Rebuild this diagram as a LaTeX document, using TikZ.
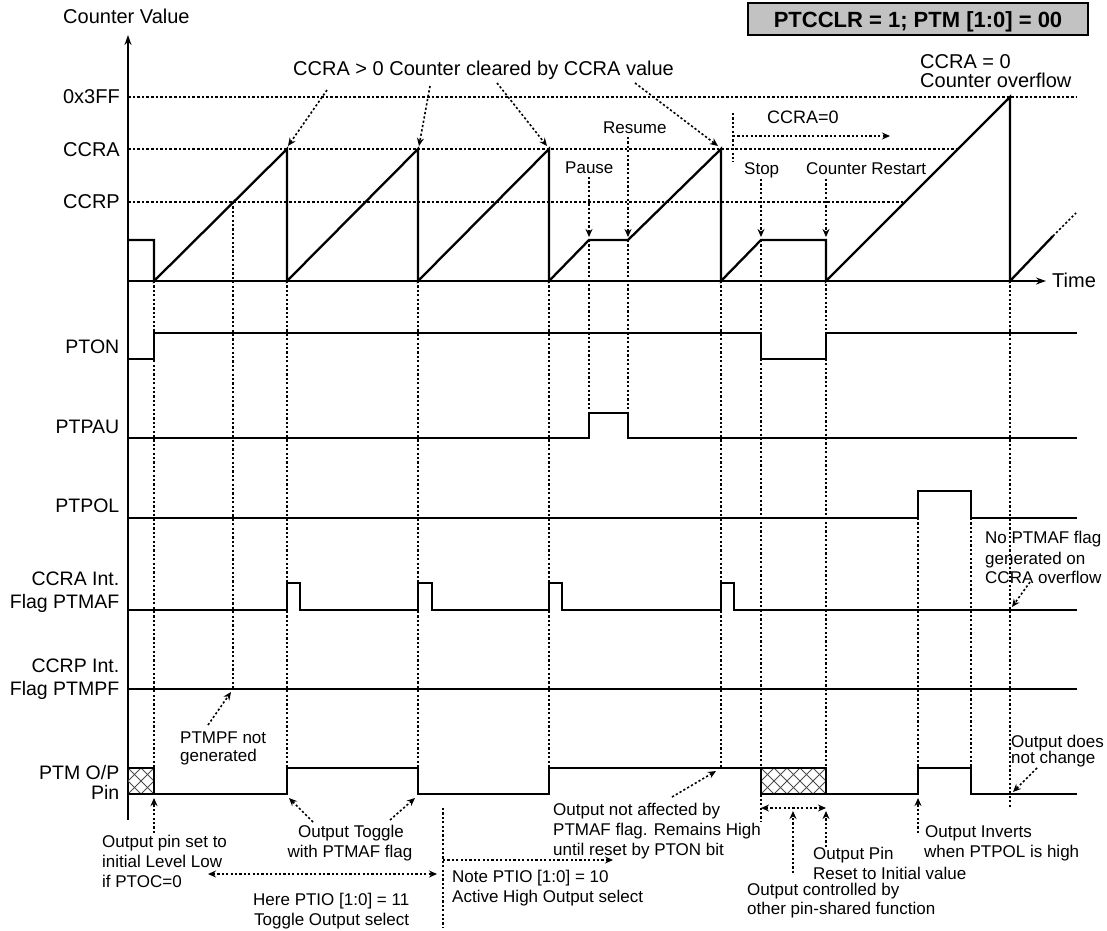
\documentclass[tikz,border=0pt]{standalone}
\usepackage{fontspec}
\setmainfont{Liberation Sans}
\usetikzlibrary{arrows.meta}
\newcommand\topfnt{\fontsize{20}{23}\selectfont}
\newcommand\lblfnt{\fontsize{19.5}{22}\selectfont}
\newcommand\annfnt{\fontsize{17}{20}\selectfont}
\begin{document}
\begin{tikzpicture}[x=1pt,y=-1pt,
  wave/.style={line width=1.9pt, line join=miter, line cap=butt},
  ramp/.style={line width=2.3pt, line join=miter},
  axis/.style={line width=2.2pt, -{Stealth[length=10pt,width=7pt]}},
  dotl/.style={line width=1.6pt, dash pattern=on 2.2pt off 2.2pt},
  dashl/.style={line width=1.6pt, dash pattern=on 2.6pt off 2pt},
  darr/.style={dotl, -{Stealth[length=8pt,width=7pt]}},
  dbarr/.style={dotl, {Stealth[length=8pt,width=7pt]}-{Stealth[length=8pt,width=7pt]}},
  toptxt/.style={font=\topfnt, inner sep=0pt, anchor=base west},
  lbl/.style={font=\lblfnt, inner sep=0pt, anchor=base east},
  ann/.style={font=\annfnt, inner sep=0pt, anchor=base west},
  hatchl/.style={line width=0.8pt, draw=black!70}
]
\useasboundingbox (0,0) rectangle (1107,930);

% ---------- title box ----------
\node[draw=black, line width=1.5pt, fill=black!24, minimum width=340pt, minimum height=32pt, inner sep=0pt] (title) at (918,19) {};
\node[font=\fontsize{22}{25}\bfseries, inner sep=0pt, anchor=base] (titletxt) at (918,27) {PTCCLR = 1; PTM [1:0] = 00};

% ---------- reference dashed lines ----------
\draw[dashl] (128,97) -- (1077,97);
\draw[dashl] (128,149) -- (957,149);
\draw[dashl] (128,202) -- (906,202);

% ---------- vertical dotted lines ----------
\draw[dotl] (154,281) -- (154,794);
\draw[dotl] (233,202) -- (233,689);
\draw[dotl] (287,149) -- (287,768);
\draw[dotl] (418,149) -- (418,768);
\draw[dotl] (549,149) -- (549,768);
\draw[dotl] (589,240) -- (589,413);
\draw[dotl] (628,240) -- (628,413);
\draw[dotl] (721,149) -- (721,768);
\draw[dotl] (761,240) -- (761,822);
\draw[dotl] (826,240) -- (826,794);
\draw[dotl] (1010,281) -- (1010,807);
\draw[dotl] (918,518) -- (918,768);
\draw[dotl] (971,518) -- (971,768);
\draw[dotl] (443,808) -- (443,927);
\draw[dotl] (733,113) -- (733,162);
\draw[dotl] (1053,236) -- (1076,213);

% ---------- axes ----------
\draw[axis] (128,820) -- (128,35);
\draw[axis] (128,281) -- (1046,281);

% ---------- counter waveform ----------
\draw[ramp] (128,240) -- (154,240) -- (154,281) -- (287,149) -- (287,281) -- (418,149) -- (418,281)
  -- (549,149) -- (549,281) -- (589,240) -- (628,240) -- (721,149) -- (721,281) -- (761,240)
  -- (826,240) -- (826,281) -- (1010,97) -- (1010,281) -- (1053,236);

% ---------- signals ----------
\draw[wave] (128,359) -- (154,359) -- (154,333) -- (761,333) -- (761,359) -- (826,359) -- (826,333) -- (1077,333);
\draw[wave] (128,438) -- (589,438) -- (589,413) -- (628,413) -- (628,438) -- (1077,438);
\draw[wave] (128,518) -- (918,518) -- (918,491) -- (971,491) -- (971,518) -- (1077,518);
\draw[wave] (128,610) -- (287,610) -- (287,583) -- (300,583) -- (300,610) -- (418,610) -- (418,583)
  -- (432,583) -- (432,610) -- (549,610) -- (549,583) -- (562,583) -- (562,610) -- (721,610)
  -- (721,583) -- (734,583) -- (734,610) -- (1077,610);
\draw[wave] (128,689) -- (1077,689);

% PTM O/P hatched boxes
\begin{scope}
  \clip (128,768) rectangle (154,794);
  \foreach \i in {-3,...,3} {
    \draw[hatchl] (128+13*\i,794) -- ++(26,-26);
    \draw[hatchl] (128+13*\i,768) -- ++(26,26);
  }
\end{scope}
\begin{scope}
  \clip (761,768) rectangle (826,794);
  \foreach \i in {-3,...,6} {
    \draw[hatchl] (761+13*\i,794) -- ++(26,-26);
    \draw[hatchl] (761+13*\i,768) -- ++(26,26);
  }
\end{scope}
\draw[wave] (128,768) -- (154,768) -- (154,794);
\draw[wave] (128,794) -- (154,794) -- (287,794) -- (287,768) -- (418,768) -- (418,794) -- (549,794)
  -- (549,768) -- (761,768) -- (826,768) -- (826,794) -- (918,794) -- (918,768) -- (971,768)
  -- (971,794) -- (1077,794);
\draw[wave] (761,768) -- (761,794) -- (826,794);

% ---------- annotation arrows ----------
\draw[darr] (327,90) -- (288,146);
\draw[darr] (430,86) -- (419,146);
\draw[darr] (497,83) -- (547,146);
\draw[darr] (635,83) -- (718,146);
\draw[darr] (589,177) -- (589,237);
\draw[darr] (628,137) -- (628,237);
\draw[darr] (761,179) -- (761,237);
\draw[darr] (826,179) -- (826,237);
\draw[darr] (733,136) -- (890,136);
\draw[darr] (1030,582) -- (1012,607);
\draw[darr] (208,725) -- (231,692);
\draw[darr] (154,833) -- (154,798);
\draw[darr] (313,822) -- (289,798);
\draw[darr] (390,820) -- (415,798);
\draw[darr] (672,797) -- (716,771);
\draw[darr] (918,833) -- (918,798);
\draw[darr] (1037,768) -- (1013,792);
\draw[darr] (826,847) -- (826,811);
\draw[darr] (793,873) -- (793,811);
\draw[dbarr] (208,874) -- (437,874);
\draw[darr] (443,860) -- (613,860);
\draw[dbarr] (761,808) -- (826,808);

% ---------- axis labels ----------
\node[toptxt] (cv) at (63,23) {Counter Value};
\node[lbl, font=\topfnt] (l3ff) at (120,103) {0x3FF};
\node[lbl, font=\topfnt] (lccra) at (120,156) {CCRA};
\node[lbl, font=\topfnt] (lccrp) at (120,208) {CCRP};
\node[toptxt] (time) at (1052,287) {Time};
\node[toptxt] (cleared) at (293,75) {CCRA > 0 Counter cleared by CCRA value};
\node[toptxt] (ovf1) at (920,68) {CCRA = 0};
\node[toptxt] (ovf2) at (920,87) {Counter overflow};

% ---------- signal labels ----------
\node[lbl] (pton) at (119.5,353) {PTON};
\node[lbl] (ptpau) at (119.5,433) {PTPAU};
\node[lbl] (ptpol) at (119.5,512) {PTPOL};
\node[lbl] (maf1) at (119.5,585) {CCRA Int.};
\node[lbl] (maf2) at (119.5,608) {Flag PTMAF};
\node[lbl] (mpf1) at (119.5,672) {CCRP Int.};
\node[lbl] (mpf2) at (119.5,695) {Flag PTMPF};
\node[lbl] (op1) at (119.5,779) {PTM O/P};
\node[lbl] (op2) at (119.5,799) {Pin};

% ---------- annotations ----------
\node[ann] (resume) at (603,133) {Resume};
\node[ann] (pause) at (565,173) {Pause};
\node[ann, font=\fontsize{18}{21}\selectfont] (ccra0) at (767,123) {CCRA=0};
\node[ann] (stop) at (744,174) {Stop};
\node[ann] (restart) at (806,174) {Counter Restart};
\node[ann] (nomaf1) at (985,543) {No PTMAF flag};
\node[ann] (nomaf2) at (985,564) {generated on};
\node[ann] (nomaf3) at (985,583) {CCRA overflow};
\node[ann] (mpfn1) at (180,743) {PTMPF not};
\node[ann] (mpfn2) at (180,761) {generated};
\node[ann] (init1) at (102,847) {Output pin set to};
\node[ann] (init2) at (102,867) {initial Level Low};
\node[ann] (init3) at (102,887) {if PTOC=0};
\node[ann, anchor=base] (tog1) at (351,837) {Output Toggle};
\node[ann, anchor=base] (tog2) at (350,857) {with PTMAF flag};
\node[ann] (here1) at (253,905) {Here PTIO [1:0] = 11};
\node[ann] (here2) at (254,925) {Toggle Output select};
\node[ann] (note1) at (452,882) {Note PTIO [1:0] = 10};
\node[ann] (note2) at (452,902) {Active High Output select};
\node[ann] (naff1) at (553,815) {Output not affected by};
\node[ann] (naff2) at (553,835) {PTMAF flag. Remains High};
\node[ann] (naff3) at (553,855) {until reset by PTON bit};
\node[ann] (rst1) at (813,859) {Output Pin};
\node[ann] (rst2) at (813,879) {Reset to Initial value};
\node[ann] (ctl1) at (747,895) {Output controlled by};
\node[ann] (ctl2) at (747,914) {other pin-shared function};
\node[ann] (inv1) at (925,837) {Output Inverts};
\node[ann] (inv2) at (924,857) {when PTPOL is high};
\node[ann] (nch1) at (1011,747) {Output does};
\node[ann] (nch2) at (1011,763) {not change};
\end{tikzpicture}
\end{document}
